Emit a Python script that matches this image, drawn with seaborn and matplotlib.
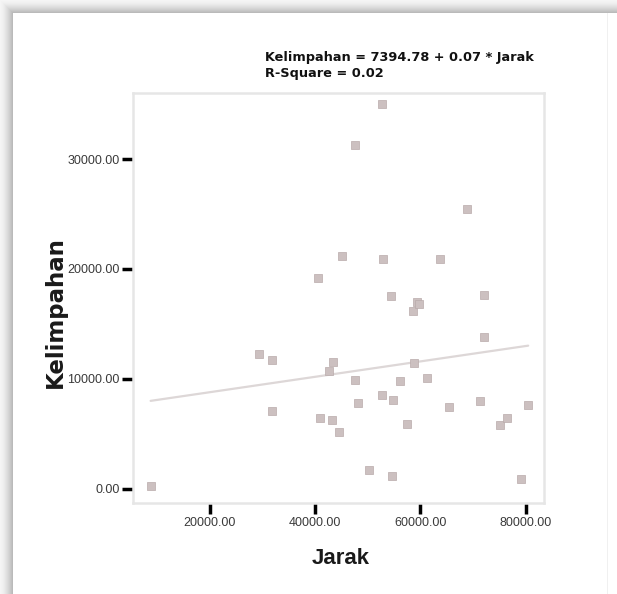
import numpy as np
import pandas as pd
import matplotlib
matplotlib.use("Agg")
import matplotlib.pyplot as plt
import seaborn as sns

# ---- data ----
jarak = [8790, 29420, 31830, 31830, 40500, 41000, 42590, 43470, 43280, 44610,
         45180, 47590, 47590, 48100, 50190, 52720, 52970, 52720, 54370, 54870,
         54560, 56200, 57530, 58550, 59310, 59740, 58850, 61320, 63730, 65380,
         68860, 71330, 72150, 72150, 75120, 76520, 79180, 80500]
kelimpahan = [300, 12240, 11730, 7090, 19210, 6430, 10730, 11520, 6270, 5150,
              21180, 31240, 9940, 7850, 1760, 35000, 20880, 8540, 17520, 8120,
              1150, 9790, 5940, 16150, 17030, 16790, 11450, 10060, 20880, 7450,
              25450, 7970, 17640, 13850, 5790, 6430, 880, 7610]
intercept = 7394.78
slope = 0.07
r_square = 0.02
x_ticks = [20000, 40000, 60000, 80000]
y_ticks = [0, 10000, 20000, 30000]

df = pd.DataFrame({"Jarak": jarak, "Kelimpahan": kelimpahan})
line_x = np.array([min(jarak), max(jarak)])
line_df = pd.DataFrame({"Jarak": line_x, "Kelimpahan": intercept + slope * line_x})

sns.set_style("white")
plt.rcParams["font.family"] = ["Liberation Sans", "DejaVu Sans"]

W, H = 617, 594
fig = plt.figure(figsize=(W / 100, H / 100), dpi=100)

# background with soft shadow on the top/left edges
bg = fig.add_axes([0, 0, 1, 1], zorder=-10)
img = np.ones((H, W))
edge = 13
for i in range(edge):
    v = 0.96 - 0.26 * (i / edge) ** 1.5
    img[i, i:] = np.minimum(img[i, i:], v)
    img[i:, i] = np.minimum(img[i:, i], v)
img[edge:, W - 10] = 0.94
bg.imshow(img, cmap="gray", vmin=0, vmax=1, aspect="auto", interpolation="bilinear")
bg.set_axis_off()

ax = fig.add_axes([133.3 / W, 1 - 502.7 / H, (544 - 133.3) / W, (502.7 - 92.7) / H])

sns.lineplot(data=line_df, x="Jarak", y="Kelimpahan", ax=ax, color="#ddd7d7",
             linewidth=1.6, zorder=1)
sns.scatterplot(data=df, x="Jarak", y="Kelimpahan", ax=ax, marker="s", s=28,
                color="#ccc0c0", edgecolor="#b9abab", linewidth=0.5, zorder=2)

ax.set_xlim(5500, 83500)
ax.set_ylim(-1250, 36030)
ax.set_xticks(x_ticks)
ax.set_yticks(y_ticks)
ax.set_xticklabels([f"{v:.2f}" for v in x_ticks])
ax.set_yticklabels([f"{v:.2f}" for v in y_ticks])
ax.tick_params(axis="both", which="major", direction="out", length=8, width=2.5,
               color="black", labelsize=9, labelcolor="#3a3a3a", pad=2,
               bottom=True, left=True)

for sp in ax.spines.values():
    sp.set_color("#e6e6e6")
    sp.set_linewidth(1.8)
    sp.set_visible(True)

ax.set_xlabel("")
ax.set_ylabel("")
fig.text(341 / W, 1 - 558 / H, "Jarak", ha="center", va="center",
         fontsize=16, fontweight="bold", color="#1a1a1a")
fig.text(55 / W, 1 - 312 / H, "Kelimpahan", ha="center", va="center",
         rotation=90, fontsize=16.5, fontweight="bold", color="#1a1a1a",
         family=["DejaVu Sans"])

fig.text(265 / W, 1 - 57 / H,
         f"Kelimpahan = {intercept:.2f} + {slope:.2f} * Jarak",
         ha="left", va="center", fontsize=9.3, fontweight="bold", color="#111111",
         family=["DejaVu Sans"])
fig.text(265 / W, 1 - 74 / H, f"R-Square = {r_square:.2f}",
         ha="left", va="center", fontsize=9.3, fontweight="bold", color="#111111",
         family=["DejaVu Sans"])

fig.savefig("out.png", dpi=100)
